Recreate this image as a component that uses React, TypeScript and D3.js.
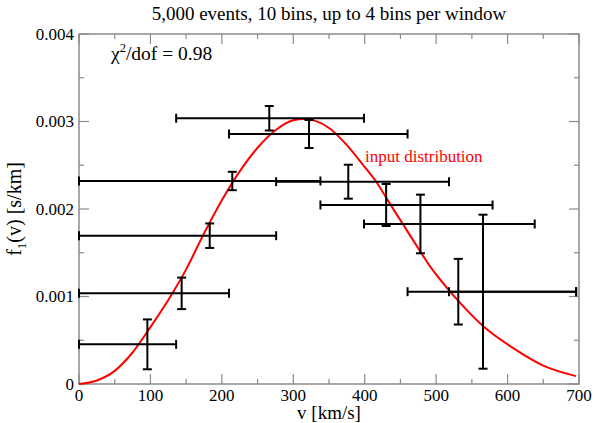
import React from "react";
import * as d3 from "d3";

// reconstructed windows: centre speed, mean f1(v), 1-sigma error
const speeds = [95.7, 143.7, 183, 214.6, 266.4, 322, 377, 430, 478, 531, 565.6];
const values = [0.000453, 0.001036, 0.001695, 0.00232, 0.003037, 0.002857, 0.002312, 0.002046, 0.001829, 0.001055, 0.001055];
const errors = [0.000285, 0.00018, 0.00014, 0.000105, 0.00014, 0.00016, 0.000194, 0.00024, 0.000335, 0.000375, 0.00088];
// window extent in v (km/s)
const windowLow = [0, 0, 0, 0, 136, 210, 276, 338, 399, 460, 518];
const windowHigh = [136, 210, 276, 338, 399, 460, 518, 579, 638, 696, 696];

// input distribution, sampled off the red curve
const curveV = [0, 25, 50, 75, 100, 125, 150, 175, 200, 225, 250, 275, 300, 315, 330, 351, 375, 398, 417, 433, 454, 475, 491, 515, 531, 566, 608, 650, 696];
const curveF = [0, 0.00004, 0.00015, 0.00036, 0.00065, 0.00096, 0.00131, 0.00172, 0.0021, 0.00243, 0.0027, 0.0029, 0.003015, 0.00303, 0.00301, 0.00292, 0.00273, 0.0025, 0.0023, 0.00209, 0.00182, 0.00155, 0.00135, 0.0011, 0.00095, 0.00066, 0.00041, 0.00021, 0.00009];

const xMajor = [0, 100, 200, 300, 400, 500, 600, 700];
const xMinor = [50, 150, 250, 350, 450, 550, 650];
const yMajor = [0, 0.001, 0.002, 0.003, 0.004];
const yMinor = [0.0005, 0.0015, 0.0025, 0.0035];

const FONT = "Liberation Serif";
const W = 595;
const H = 423;
const left = 79, right = 579, top = 34, bottom = 384;
const axisColor = "#8a8a8a";

export default function App() {
  const x = d3.scaleLinear().domain([0, 700]).range([left, right]);
  const y = d3.scaleLinear().domain([0, 0.004]).range([bottom, top]);

  const line = d3.line<number>()
    .x((d, i) => x(curveV[i]))
    .y((d) => y(d))
    .curve(d3.curveMonotoneX);

  const cap = 4.5;

  const xTick = (v: number, len: number) => (
    <g key={"x" + v}>
      <line x1={x(v)} x2={x(v)} y1={bottom} y2={bottom - len} />
      <line x1={x(v)} x2={x(v)} y1={top} y2={top + len} />
    </g>
  );
  const yTick = (v: number, len: number) => (
    <g key={"y" + v}>
      <line y1={y(v)} y2={y(v)} x1={left} x2={left + len} />
      <line y1={y(v)} y2={y(v)} x1={right} x2={right - len} />
    </g>
  );

  return (
    <svg width={W} height={H} viewBox={`0 0 ${W} ${H}`}
      style={{ position: "absolute", left: 0, top: 0, display: "block" }}>
      <rect width={W} height={H} fill="#ffffff" />

      {/* inward ticks on all four sides */}
      <g stroke={axisColor} strokeWidth={1.2}>
        {xMajor.map((v) => xTick(v, 10))}
        {xMinor.map((v) => xTick(v, 5))}
        {yMajor.map((v) => yTick(v, 10))}
        {yMinor.map((v) => yTick(v, 5))}
      </g>
      <rect x={left} y={top} width={right - left} height={bottom - top}
        fill="none" stroke={axisColor} strokeWidth={1.5} />

      {xMajor.map((d) => (
        <text key={"xl" + d} x={x(d)} y={400.5} textAnchor="middle" fontFamily={FONT} fontSize={17}>{d}</text>
      ))}
      {yMajor.map((d) => (
        <text key={"yl" + d} x={left - 5} y={y(d)} dy="0.33em" textAnchor="end" fontFamily={FONT} fontSize={17}>
          {d === 0 ? "0" : d.toFixed(3)}
        </text>
      ))}

      {/* input distribution */}
      <path d={line(curveF) || ""} fill="none" stroke="#ff0000" strokeWidth={2} />

      {/* window estimates */}
      <g stroke="#000000" strokeWidth={2} fill="none">
        {speeds.map((v, i) => {
          const cx = x(v);
          const cy = y(values[i]);
          const x0 = x(windowLow[i]);
          const x1 = x(windowHigh[i]);
          const yTop = y(values[i] + errors[i]);
          const yBot = y(values[i] - errors[i]);
          return (
            <g key={"b" + i}>
              <line x1={x0} x2={x1} y1={cy} y2={cy} />
              <line x1={x0} x2={x0} y1={cy - cap} y2={cy + cap} />
              <line x1={x1} x2={x1} y1={cy - cap} y2={cy + cap} />
              <line x1={cx} x2={cx} y1={yTop} y2={yBot} />
              <line x1={cx - cap} x2={cx + cap} y1={yTop} y2={yTop} />
              <line x1={cx - cap} x2={cx + cap} y1={yBot} y2={yBot} />
            </g>
          );
        })}
      </g>

      <text x={(left + right) / 2} y={20} textAnchor="middle" fontFamily={FONT} fontSize={19}>
        5,000 events, 10 bins, up to 4 bins per window
      </text>

      <text x={111} y={59.5} fontFamily={FONT} fontSize={19.5}>
        <tspan>χ</tspan>
        <tspan dy={-8} fontSize={12.5}>2</tspan>
        <tspan dy={8}>/dof = 0.98</tspan>
      </text>

      <text x={365} y={162} fill="#ff0000" fontFamily={FONT} fontSize={17}>input distribution</text>

      <text x={(left + right) / 2} y={419} textAnchor="middle" fontFamily={FONT} fontSize={19}>v [km/s]</text>

      <text transform={`translate(21, ${(top + bottom) / 2}) rotate(-90)`} textAnchor="middle" fontFamily={FONT} fontSize={20}>
        <tspan>f</tspan>
        <tspan dy={5} fontSize={13}>1</tspan>
        <tspan dy={-5}>(v) [s/km]</tspan>
      </text>
    </svg>
  );
}
